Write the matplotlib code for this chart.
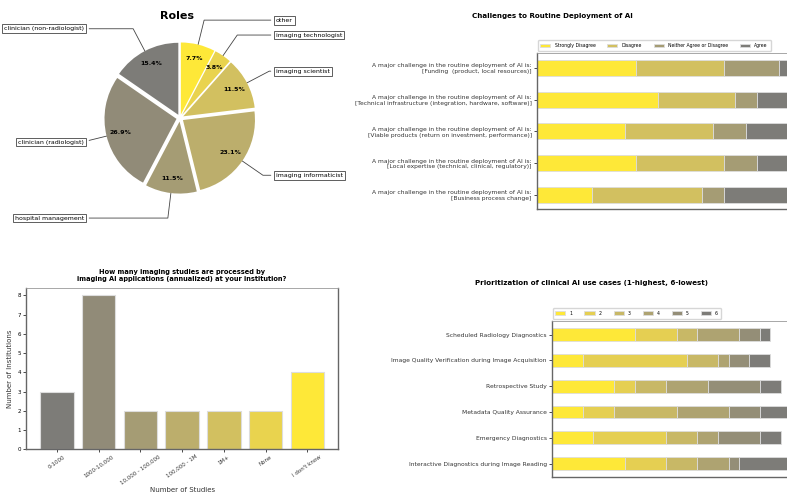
import numpy as np
import matplotlib
matplotlib.use("Agg")
import matplotlib.pyplot as plt

# pie: roles of respondents
roles = ["other", "imaging technologist", "imaging scientist", "imaging informaticist",
         "hospital management", "clinician (radiologist)", "clinician (non-radiologist)"]
role_counts = [2, 1, 3, 6, 3, 7, 4]

# bar: studies processed per year
study_bins = ["0-1000", "1000-10,000", "10,000 - 100,000", "100,000 - 1M", "1M+", "None", "I don't know"]
study_counts = [3, 8, 2, 2, 2, 2, 4]

# stacked bars: challenges
challenge_labels = [
    "A major challenge in the routine deployment of AI is:\n[Funding  (product, local resources)]",
    "A major challenge in the routine deployment of AI is:\n[Technical infrastructure (integration, hardware, software)]",
    "A major challenge in the routine deployment of AI is:\n[Viable products (return on investment, performance)]",
    "A major challenge in the routine deployment of AI is:\n[Local expertise (technical, clinical, regulatory)]",
    "A major challenge in the routine deployment of AI is:\n[Business process change]",
]
answer_names = ["Strongly Disagree", "Disagree", "Neither Agree or Disagree", "Agree"]
strongly_disagree = [9, 11, 8, 9, 5]
disagree = [8, 7, 8, 8, 10]
neither = [5, 2, 3, 3, 2]
agree = [4, 6, 7, 6, 9]

# stacked bars: prioritization
use_cases = ["Scheduled Radiology Diagnostics",
             "Image Quality Verification during Image Acquisition",
             "Retrospective Study", "Metadata Quality Assurance",
             "Emergency Diagnostics", "Interactive Diagnostics during Image Reading"]
rank_names = ["1", "2", "3", "4", "5", "6"]
rank1 = [8, 3, 6, 3, 4, 7]
rank2 = [4, 10, 2, 3, 7, 4]
rank3 = [2, 3, 3, 6, 3, 3]
rank4 = [4, 1, 4, 5, 2, 3]
rank5 = [2, 2, 5, 3, 4, 1]
rank6 = [1, 2, 2, 3, 2, 5]

cmap = plt.get_cmap("cividis")
W, H = 787, 495


def px_axes(fig, left, top, right, bottom):
    # axes box from pixel edges (y from top)
    return fig.add_axes([left / W, 1 - bottom / H, (right - left) / W, (bottom - top) / H])


def style_spines(ax):
    for s in ["left", "bottom", "right"]:
        ax.spines[s].set_color("#666666")
        ax.spines[s].set_linewidth(1.0)
    ax.spines["top"].set_color("#999999")
    ax.spines["top"].set_linewidth(0.6)


def stacked_barh(ax, labels, series, names, colors):
    y = np.arange(len(labels))
    left = np.zeros(len(labels))
    for vals, name, c in zip(series, names, colors):
        ax.barh(y, vals, left=left, height=0.5, color=c, edgecolor="#dddddd",
                linewidth=0.6, label=name)
        left += np.array(vals)
    ax.set_yticks(y)
    ax.set_yticklabels(labels, fontsize=4.3, color="#333333")
    ax.tick_params(axis="y", length=2, width=0.5, pad=1.5)
    ax.xaxis.set_visible(False)
    style_spines(ax)


def top_legend(ax, ncol):
    ax.legend(loc="lower left", bbox_to_anchor=(0.0, 1.01), ncol=ncol, fontsize=3.3, frameon=True,
              handlelength=2.2, handleheight=0.8, handletextpad=0.9, columnspacing=2.6,
              borderaxespad=0.2, borderpad=0.6, edgecolor="#cccccc", fancybox=True)


fig = plt.figure(figsize=(W / 100, H / 100), dpi=100)

# ---- Roles pie
ax = px_axes(fig, 72, 10, 288, 226)
colors7 = [cmap(v) for v in np.linspace(1.0, 0.5, 7)]
wedges, texts, autotexts = ax.pie(role_counts, colors=colors7, startangle=90, counterclock=False,
                                  explode=[0.05] * 7, autopct="%.1f%%", pctdistance=0.8,
                                  textprops=dict(fontsize=4.5, fontweight="bold"))
ax.set_aspect("equal")
ax.set_xlim(-1.5, 1.5)
ax.set_ylim(-1.5, 1.5)
bbox_props = dict(boxstyle="square,pad=0.3", fc="w", ec="#444444", lw=0.6)
kw = dict(arrowprops=dict(arrowstyle="-", color="#444444", lw=0.6), bbox=bbox_props,
          zorder=0, va="center", fontsize=4.5)
for i, p in enumerate(wedges):
    ang = (p.theta2 - p.theta1) / 2. + p.theta1
    yy = np.sin(np.deg2rad(ang))
    xx = np.cos(np.deg2rad(ang))
    ha = {-1: "right", 1: "left"}[int(np.sign(xx))]
    kw["arrowprops"].update({"connectionstyle": f"angle,angleA=0,angleB={ang}"})
    ax.annotate(roles[i], xy=(xx, yy), xytext=(1.33 * np.sign(xx), 1.4 * yy),
                horizontalalignment=ha, **kw)
ax.text(-0.04, 1.41, "Roles", ha="center", va="center", fontsize=8, fontweight="bold")

# ---- Studies bar chart
ax = px_axes(fig, 26, 287.7, 338.3, 449.3)
ax.bar(np.arange(7), study_counts, width=0.8, color=colors7[::-1], edgecolor="#dddddd", linewidth=0.8)
ax.set_xticks(np.arange(7))
ax.set_xticklabels(study_bins, rotation=35, fontsize=4.0, color="#333333")
ax.tick_params(axis="both", labelsize=4.0, length=2, width=0.5, pad=1.5)
ax.set_xlabel("Number of Studies", fontsize=5.0, color="#333333", labelpad=1)
ax.set_ylabel("Number of Institutions", fontsize=5.0, color="#333333", labelpad=3)
ax.set_title("How many imaging studies are processed by\nimaging AI applications (annualized) at your institution?",
             fontsize=4.8, fontweight="bold", pad=5)
style_spines(ax)

# ---- Challenges
ax = px_axes(fig, 536.7, 53.3, 536.7 + 26 * 11, 209.3)
colors4 = [cmap(v) for v in np.linspace(1.0, 0.5, 4)]
stacked_barh(ax, challenge_labels, [strongly_disagree, disagree, neither, agree], answer_names, colors4)
ax.set_xlim(0, 26)
ax.set_ylim(4.46, -0.46)
top_legend(ax, 4)
fig.text(552 / W, 1 - 15.7 / H, "Challenges to Routine Deployment of AI", ha="center", va="center",
         fontsize=5.1, fontweight="bold")

# ---- Prioritization
ax = px_axes(fig, 551.7, 321, 551.7 + 25 * 10.4, 477.3)
colors6 = [cmap(v) for v in np.linspace(1.0, 0.5, 6)]
stacked_barh(ax, use_cases, [rank1, rank2, rank3, rank4, rank5, rank6], rank_names, colors6)
ax.set_xlim(0, 25)
ax.set_ylim(5.53, -0.53)
top_legend(ax, 6)
fig.text(591.7 / W, 1 - 283.3 / H, "Prioritization of clinical AI use cases (1-highest, 6-lowest)",
         ha="center", va="center", fontsize=5.1, fontweight="bold")

fig.savefig("out.png", dpi=100)
